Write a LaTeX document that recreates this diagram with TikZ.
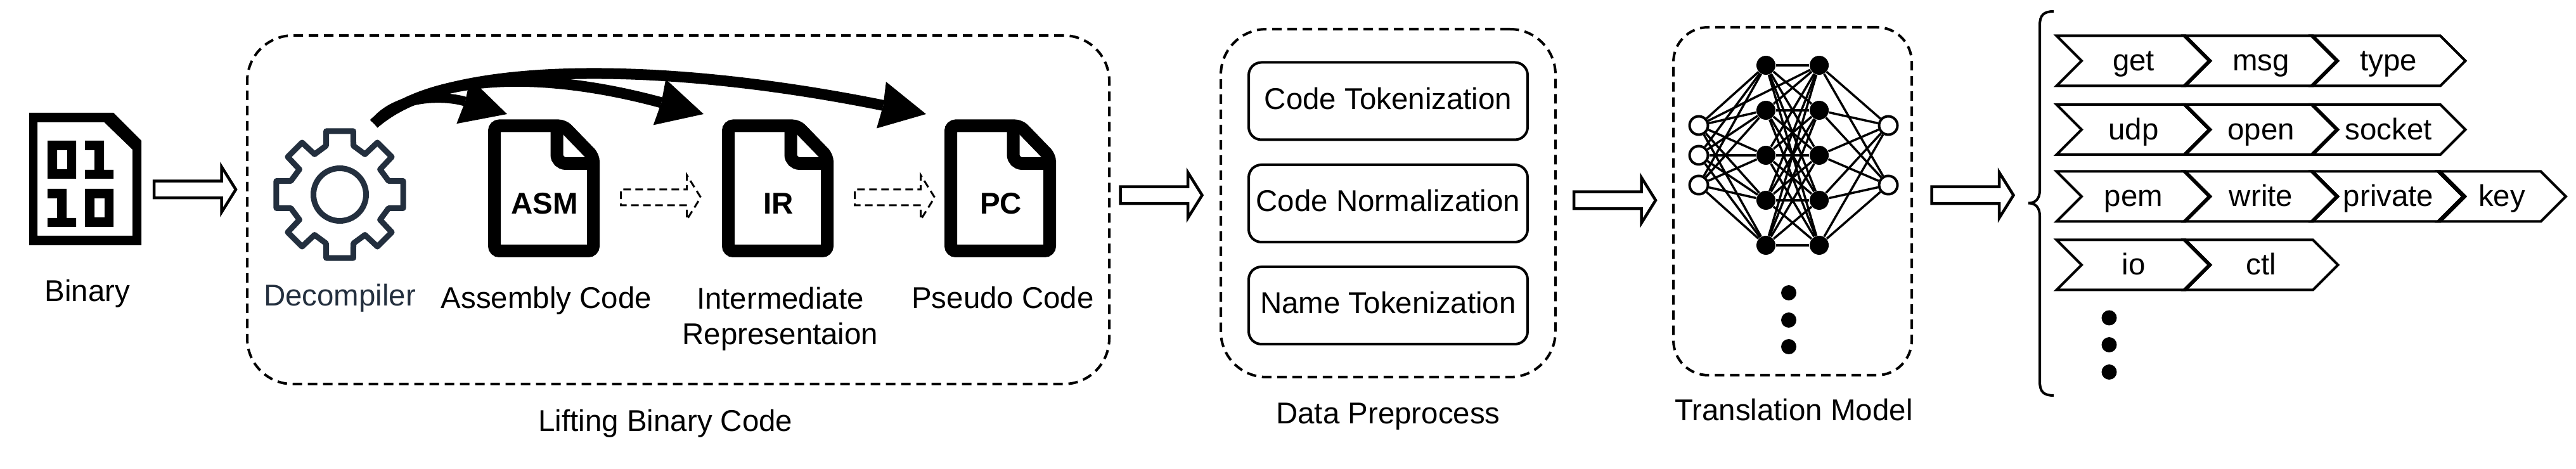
\documentclass[tikz,border=0pt]{standalone}
\usepackage{fontspec}
\setmainfont{Liberation Sans}
\usetikzlibrary{arrows.meta,shapes.arrows,shapes.symbols}
\definecolor{gearcolor}{HTML}{232F3E}
\tikzset{
  plaintext/.style={inner sep=0,outer sep=0,align=center,anchor=base},
  stagebox/.style={draw,line width=.04cm,dash pattern=on .15cm off .09cm,rounded corners=.72cm},
  stepbox/.style={draw,line width=.04cm,rounded corners=.2cm,minimum width=4.4cm,minimum height=1.22cm,
    inner sep=0,text height=.34cm,text depth=.08cm},
  flowarrow/.style={draw,single arrow,line width=.045cm,inner xsep=0,inner ysep=.11cm,outer sep=0,anchor=tail,
    single arrow tip angle=116,single arrow head extend=.225cm,minimum height=1.29cm},
  dasharrow/.style={flowarrow,line width=.03cm,dash pattern=on .12cm off .07cm,minimum height=1.26cm},
  flowcurve/.style={line width=#1,-{Stealth[length=.72cm,width=.75cm,inset=.03cm,line width=0pt]}},
  tokenbox/.style={draw,signal,signal from=west,signal to=east,line width=.04cm,inner sep=0,
    minimum width=2.43cm,minimum height=.79cm,text height=.42cm,text depth=.10cm},
  netline/.style={line width=.035cm},
  inunit/.style={circle,draw,fill=white,line width=.04cm,inner sep=0,minimum size=.29cm},
  hidunit/.style={circle,fill=black,inner sep=0,minimum size=.30cm},
  dotnode/.style={circle,fill=black,inner sep=0,minimum size=.24cm},
  docicon/.pic={
    \draw[line width=.2cm,rounded corners=.08cm] (-.78,-.985) -- (.31,-.985) -- (.78,-.50)
      -- (.78,.99) -- (-.78,.99) -- cycle;
    \draw[line width=.2cm,rounded corners=.14cm] (.205,-.985) -- (.205,-.39) -- (.78,-.39);
  }
}
\newcommand{\bitzero}{(0,0) rectangle (.45,.60) (.15,.15) rectangle (.31,.45)}
\newcommand{\bitone}{(0,0) -- (.30,0) -- (.30,.46) -- (.45,.46) -- (.45,.60) -- (0,.60)
  -- (0,.46) -- (.15,.46) -- (.15,.15) -- (0,.15) -- cycle}
\newcommand{\gearquad}[1]{-- ({#1-12.1}:1.023) -- ({#1+12.1}:1.023) -- ({#1+15.6}:.80)
  -- ({#1+32}:.75) -- ({#1+35.9}:1.013) -- ({#1+54.1}:1.013)
  -- ({#1+58}:.75) -- ({#1+74.4}:.80)}
\begin{document}
\begin{tikzpicture}[y=-1cm,font=\fontsize{13.5}{16.2}\selectfont]
    \useasboundingbox (0,0) rectangle (40.64,7.40);
    % binary file
    \fill[even odd rule] (.46,1.78) -- (1.79,1.78) -- (2.23,2.22) -- (2.23,3.87) -- (.46,3.87) -- cycle
      (.59,1.93) -- (1.645,1.93) -- (2.09,2.36) -- (2.09,3.72) -- (.59,3.72) -- cycle;
    \foreach \x/\y in {.75/2.22,1.34/2.98}
      \fill[even odd rule,shift={(\x,\y)}] \bitzero;
    \foreach \x/\y in {1.34/2.22,.75/2.98}
      \fill[shift={(\x,\y)}] \bitone;
    \node[plaintext] (binary) at (1.38,4.76) {Binary};
    \node[flowarrow] (arrowa) at (2.43,2.99) {};
    % lifting stage
    \node[stagebox,minimum width=13.6cm,minimum height=5.5cm] (lifting) at (10.70,3.31) {};
    \node[plaintext] (liftinglabel) at (10.50,6.81) {Lifting Binary Code};
    \draw[gearcolor,line width=.09cm,line join=round,shift={(5.36,3.07)}]
      (-15.6:.80) \gearquad{0} \gearquad{90} \gearquad{180} \gearquad{270} -- cycle;
    \draw[gearcolor,line width=.09cm] (5.36,3.07) circle (.415);
    \node[plaintext,text=gearcolor] (decompiler) at (5.36,4.83) {Decompiler};
    \foreach \x/\n/\lab in {8.58/asm/ASM,12.27/ir/IR,15.78/pc/PC} {
      \pic at (\x,2.97) {docicon};
      \node[plaintext,font=\fontsize{13.5}{16.2}\selectfont\bfseries] (\n) at (\x+.01,3.38) {\lab};
    }
    \node[plaintext] (asmlabel) at (8.62,4.87) {Assembly Code};
    \node[plaintext] (irlabel) at (12.31,5.44) {Intermediate\\Representaion};
    \node[plaintext] (pclabel) at (15.82,4.87) {Pseudo Code};
    \node[dasharrow] (dasha) at (9.795,3.115) {};
    \node[dasharrow] (dashb) at (13.485,3.115) {};
    \coordinate (gearout) at (5.90,1.95);
    \coordinate (asmtip) at (8.00,1.80);
    \coordinate (irtip) at (11.10,1.80);
    \coordinate (pctip) at (14.61,1.80);
    \draw[flowcurve=.15cm] (gearout) .. controls (6.25,1.50) and (7.00,1.50) .. (asmtip);
    \draw[flowcurve=.17cm] (gearout) .. controls (6.90,1.10) and (8.70,1.15) .. (irtip);
    \draw[flowcurve=.17cm] (gearout) .. controls (7.00,.95) and (10.40,.95) .. (pctip);
    \node[flowarrow] (arrowb) at (17.675,3.08) {};
    % preprocess stage
    \node[stagebox,minimum width=5.28cm,minimum height=5.49cm] (prep) at (21.90,3.205) {};
    \foreach \y/\n/\lab in {1.595/codetok/Code Tokenization,3.21/codenorm/Code Normalization,4.82/nametok/Name Tokenization}
      \node[stepbox] (\n) at (21.90,\y) {\lab};
    \node[plaintext] (preplabel) at (21.90,6.69) {Data Preprocess};
    \node[flowarrow] (arrowc) at (24.83,3.16) {};
    % translation model
    \node[stagebox,minimum width=3.76cm,minimum height=5.49cm,rounded corners=.55cm] (model) at (28.28,3.175) {};
    \node[plaintext] (modellabel) at (28.30,6.64) {Translation Model};
    \foreach \y [count=\i] in {1.98,2.45,2.92}
      \node[inunit] (in\i) at (26.80,\y) {};
    \foreach \y [count=\i] in {1.03,1.74,2.45,3.16,3.87} {
      \node[hidunit] (hl\i) at (27.86,\y) {};
      \node[hidunit] (hr\i) at (28.70,\y) {};
    }
    \foreach \y [count=\i] in {1.98,2.92}
      \node[inunit] (out\i) at (29.79,\y) {};
    \foreach \a in {1,2,3}
      \foreach \b in {1,...,5}
        \draw[netline] (in\a) -- (hl\b);
    \foreach \a in {1,...,5}
      \foreach \b in {1,...,5}
        \draw[netline] (hl\a) -- (hr\b);
    \foreach \a in {1,...,5}
      \foreach \b in {1,2}
        \draw[netline] (hr\a) -- (out\b);
    \draw[netline] (in1) -- (hr1);
    \foreach \y [count=\i] in {4.62,5.05,5.47}
      \node[dotnode] (modeldot\i) at (28.22,\y) {};
    \node[flowarrow] (arrowd) at (30.475,3.08) {};
    % output tokens
    \coordinate (bracetop) at (32.40,.18);
    \coordinate (bracebot) at (32.40,6.24);
    \draw[line width=.04cm] (bracetop) .. controls (32.24,.18) and (32.18,.24) .. (32.18,.40) -- (32.18,3.00)
      .. controls (32.18,3.15) and (32.10,3.205) .. (32.00,3.205)
      .. controls (32.10,3.205) and (32.18,3.26) .. (32.18,3.41) -- (32.18,6.02)
      .. controls (32.18,6.18) and (32.24,6.24) .. (bracebot);
    \foreach \r/\y/\words in {a/.96/{get,msg,type},b/2.045/{udp,open,socket},c/3.10/{pem,write,private},d/4.18/{io,ctl}}
      \foreach \w [count=\i] in \words
        \node[tokenbox] (\r\i) at ({33.66+2.01*(\i-1)},\y) {\w};
    \node[tokenbox,minimum width=2.02cm] (c4) at (39.47,3.10) {key};
    \foreach \y [count=\i] in {5.015,5.44,5.87}
      \node[dotnode] (tokendot\i) at (33.275,\y) {};
\end{tikzpicture}
\end{document}
